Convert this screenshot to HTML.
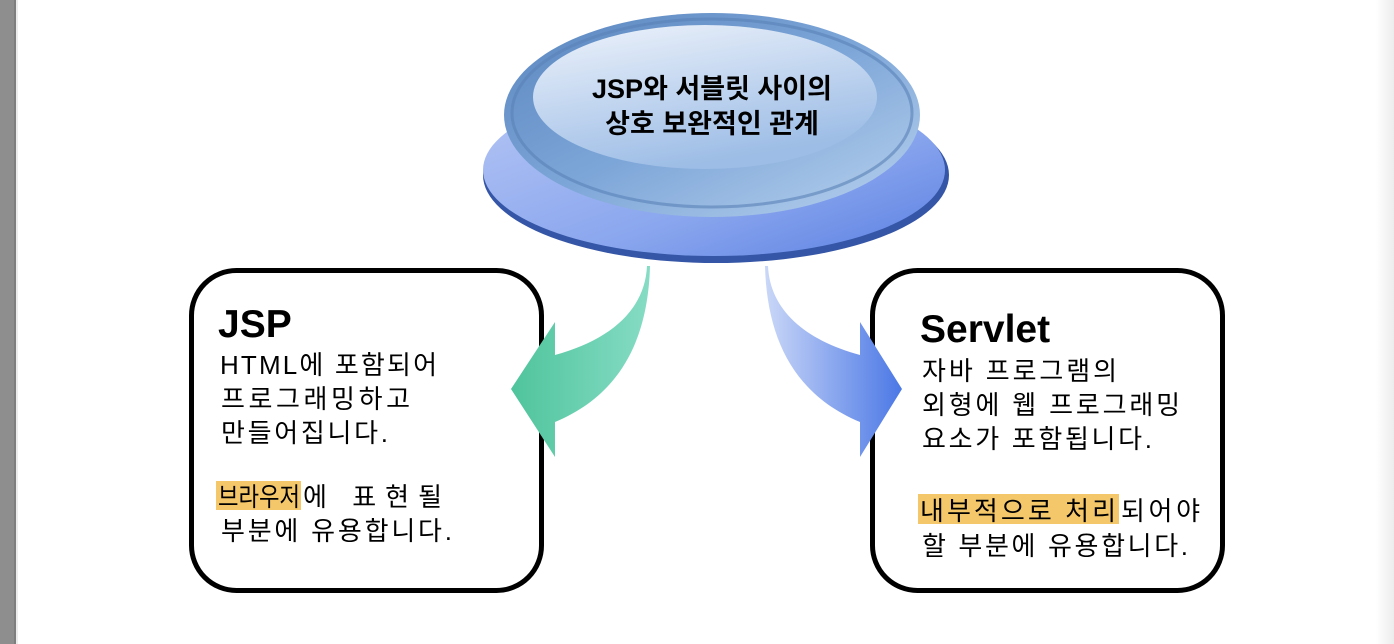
<!DOCTYPE html>
<html><head><meta charset="utf-8"><style>
html,body{margin:0;padding:0;width:1394px;height:644px;overflow:hidden;background:#fff}
svg{display:block}
.t{font-family:"Liberation Sans","Noto Sans CJK KR",sans-serif;font-size:26px;fill:#000}
.h{font-family:"Liberation Sans","Noto Sans CJK KR",sans-serif;font-size:39px;font-weight:bold;fill:#000}
.c{font-family:"Liberation Sans","Noto Sans CJK KR",sans-serif;font-size:27px;font-weight:bold;fill:#000}
</style></head><body>
<svg width="1394" height="644" viewBox="0 0 1394 644" xmlns="http://www.w3.org/2000/svg">
<defs>
<linearGradient id="bg" x1="0" x2="1"><stop offset="0" stop-color="#fff"/><stop offset="1" stop-color="#ececec"/></linearGradient>
<linearGradient id="base" x1="0" y1="0" x2="1" y2="1"><stop offset="0" stop-color="#b8c8f5"/><stop offset="0.6" stop-color="#8aa6ee"/><stop offset="1" stop-color="#5b80e2"/></linearGradient>
<linearGradient id="dome" x1="0" y1="0" x2="1" y2="1"><stop offset="0" stop-color="#5a86bf"/><stop offset="0.5" stop-color="#7da6d8"/><stop offset="1" stop-color="#b9d2ee"/></linearGradient>
<linearGradient id="top" x1="0" y1="0" x2="0.4" y2="1"><stop offset="0" stop-color="#eef3fb"/><stop offset="1" stop-color="#9dbde6"/></linearGradient>
<linearGradient id="ga" x1="0" x2="1"><stop offset="0" stop-color="#4fc49c"/><stop offset="1" stop-color="#86dcc4"/></linearGradient>
<linearGradient id="gb" x1="0" x2="1"><stop offset="0" stop-color="#cad7f7"/><stop offset="1" stop-color="#4b78e6"/></linearGradient>
</defs>
<rect x="0" y="0" width="14" height="644" fill="#8e8e8e"/>
<rect x="14" y="0" width="2" height="644" fill="#7e7e7e"/>
<rect x="16" y="0" width="2" height="644" fill="#ececec"/>
<rect x="1376" y="0" width="18" height="644" fill="url(#bg)"/>
<ellipse cx="716" cy="175" rx="233" ry="88" fill="#3556a6"/>
<ellipse cx="714" cy="170" rx="231" ry="86" fill="url(#base)"/>
<ellipse cx="712" cy="115" rx="208" ry="102" fill="url(#dome)"/>
<ellipse cx="712" cy="113" rx="200" ry="94" fill="none" stroke="#5a82b8" stroke-width="3" opacity="0.6"/>
<ellipse cx="705" cy="97" rx="172" ry="72" fill="url(#top)"/>
<text class="c" x="712" y="98" text-anchor="middle">JSP와 서블릿 사이의</text>
<text class="c" x="712" y="133" text-anchor="middle">상호 보완적인 관계</text>
<rect x="191.5" y="270.5" width="350" height="320" rx="45" fill="#fff" stroke="#000" stroke-width="5"/>
<rect x="872.5" y="270.5" width="350" height="320" rx="45" fill="#fff" stroke="#000" stroke-width="5"/>
<path d="M650,266 C648,340 620,395 555,422 L555,457 L511,389 L555,322 L555,355 C610,340 645,310 647,266 Z" fill="url(#ga)"/>
<path d="M765,266 C767,340 795,395 860,422 L860,457 L902,389 L860,322 L860,355 C805,340 770,310 768,266 Z" fill="url(#gb)"/>
<text class="h" x="218" y="337">JSP</text>
<rect x="216" y="481" width="85" height="29" fill="#f4c86a"/>
<text class="t" x="220" y="374" textLength="217" lengthAdjust="spacing">HTML에 포함되어</text>
<text class="t" x="221" y="408" textLength="189" lengthAdjust="spacing">프로그래밍하고</text>
<text class="t" x="221" y="442" textLength="167" lengthAdjust="spacing">만들어집니다.</text>
<text class="t" x="218" y="506" textLength="82" lengthAdjust="spacingAndGlyphs">브라우저</text>
<text class="t" x="303" y="506" textLength="139" lengthAdjust="spacing">에 표현될</text>
<text class="t" x="221" y="540" textLength="231" lengthAdjust="spacing">부분에 유용합니다.</text>
<text class="h" x="920" y="342">Servlet</text>
<rect x="918" y="494" width="201" height="30" fill="#f4c86a"/>
<text class="t" x="922" y="380" textLength="195" lengthAdjust="spacing">자바 프로그램의</text>
<text class="t" x="922" y="414" textLength="258" lengthAdjust="spacing">외형에 웹 프로그래밍</text>
<text class="t" x="922" y="448" textLength="230" lengthAdjust="spacing">요소가 포함됩니다.</text>
<text class="t" x="920" y="520" textLength="196" lengthAdjust="spacing">내부적으로 처리</text>
<text class="t" x="1121" y="520" textLength="79" lengthAdjust="spacing">되어야</text>
<text class="t" x="922" y="555" textLength="266" lengthAdjust="spacing">할 부분에 유용합니다.</text>
</svg>
</body></html>
